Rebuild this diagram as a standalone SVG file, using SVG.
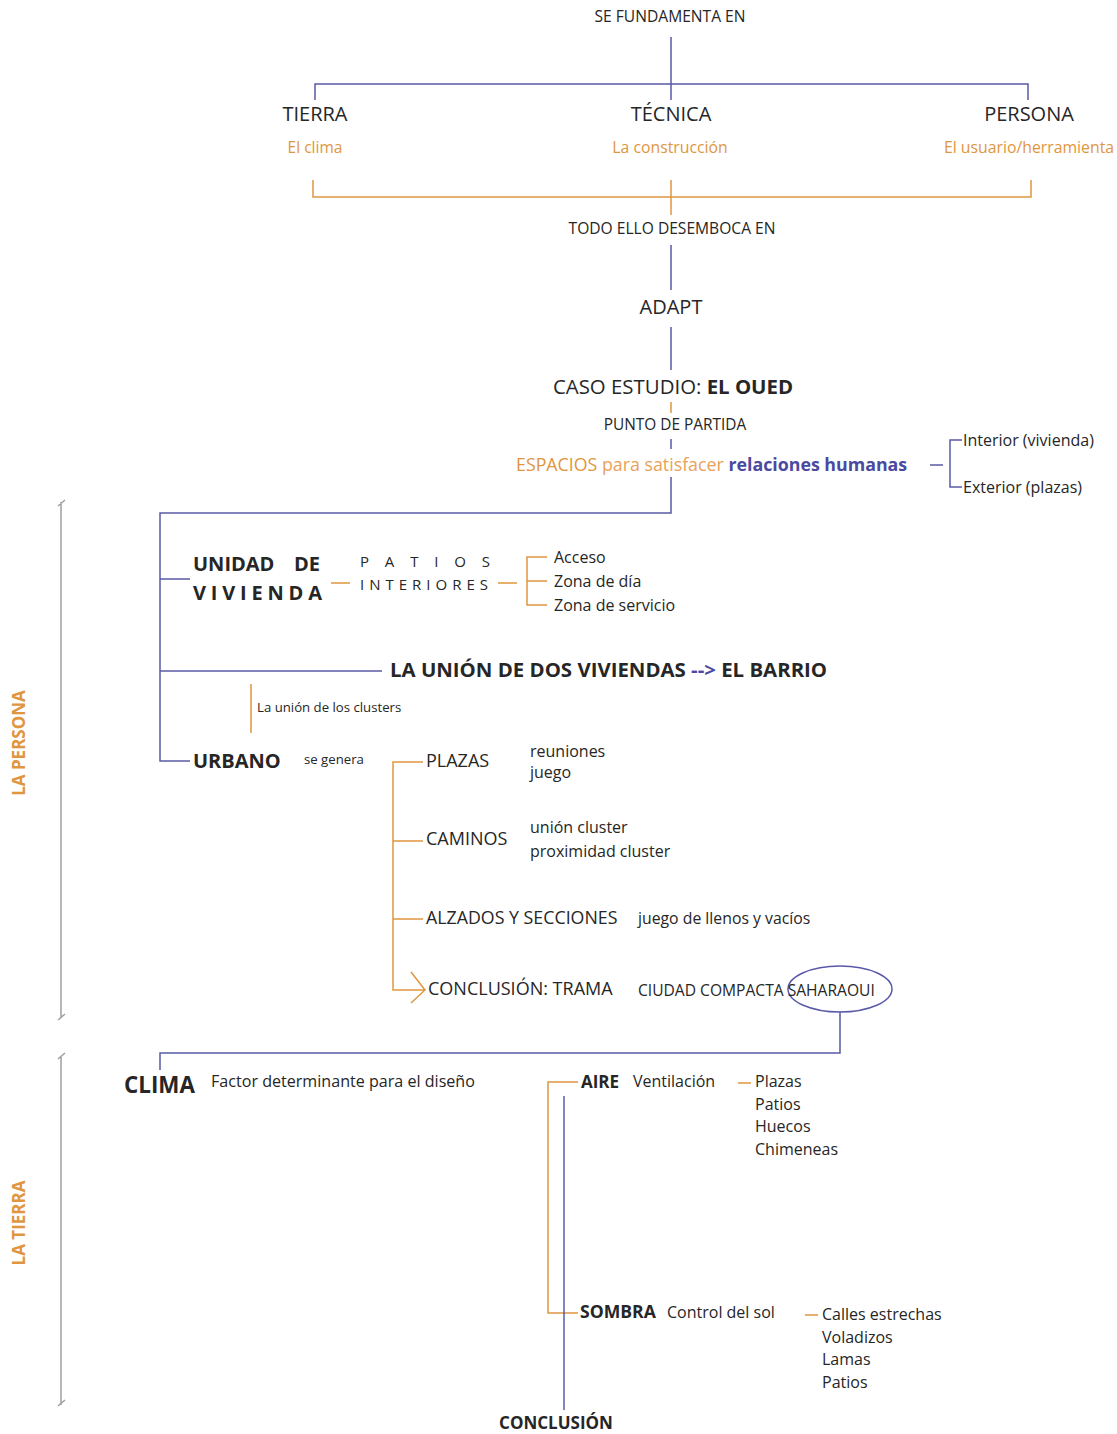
<svg xmlns="http://www.w3.org/2000/svg" width="1117" height="1434" viewBox="0 0 1117 1434">
<style>
text{font-family:"Open Sans","Noto Sans","Liberation Sans",sans-serif;fill:#262626}
.b{stroke:#5a5aa8;stroke-width:1.5;fill:none}
.o{stroke:#e0963f;stroke-width:1.5;fill:none}
.g{stroke:#a0a0a0;stroke-width:1.5;fill:none}
.or{fill:#e0963f}
.orl{fill:#e8a25a}
.bl{fill:#4a4aa0}
.bold{font-weight:700}
</style>
<rect width="1117" height="1434" fill="#fff"/>
<g id="connectors">
<path class="b" d="M671 37V100M315 100V84H1028V100"/>
<path class="o" d="M313 180V197H1031V180M671 180V215"/>
<path class="b" d="M671 245V290M671 327V370"/>
<path class="o" d="M671 402V413"/>
<path class="b" d="M671 439V449M671 477V513H160V761H190M160 579H190M160 671H382"/>
<path class="b" d="M930 465H943M962 440H950V487H962"/>
<path class="o" d="M331 583H350M498 583H517M547 557H527V605H547M527 581H547"/>
<path class="o" d="M251 684V733"/>
<path class="o" d="M423 762H393V990H425M393 841H423M393 919H423M411 972L425 990L411 1003"/>
<ellipse class="b" cx="840" cy="989" rx="52" ry="23"/>
<path class="b" d="M840 1012V1053H160V1070"/>
<path class="o" d="M578 1082H548V1313H578"/>
<path class="b" d="M564 1096V1410"/>
<path class="o" d="M738 1083H751M805 1315H818"/>
<path class="g" d="M61 502V1018M58 506L65 500M58 1020L65 1014M61 1057V1405M58 1059L65 1053M58 1406L65 1400"/>
</g>
<g id="n-top"><text x="670" y="22" font-size="15.6" text-anchor="middle">SE FUNDAMENTA EN</text></g>
<g id="n-tierra"><text x="315" y="121" font-size="20" text-anchor="middle">TIERRA</text><text class="or" x="315" y="153" font-size="15.5" text-anchor="middle">El clima</text></g>
<g id="n-tecnica"><text x="671" y="121" font-size="20" text-anchor="middle">TÉCNICA</text><text class="or" x="670" y="153" font-size="15.8" text-anchor="middle">La construcción</text></g>
<g id="n-persona"><text x="1029" y="121" font-size="20" text-anchor="middle">PERSONA</text><text class="or" x="1029" y="153" font-size="15.8" text-anchor="middle">El usuario/herramienta</text></g>
<g id="n-todo"><text x="672" y="234" font-size="15.6" text-anchor="middle">TODO ELLO DESEMBOCA EN</text></g>
<g id="n-adapt"><text x="671" y="314" font-size="20" text-anchor="middle">ADAPT</text></g>
<g id="n-caso"><text x="673" y="394" font-size="20.4" text-anchor="middle">CASO ESTUDIO: <tspan class="bold">EL OUED</tspan></text></g>
<g id="n-punto"><text x="675" y="430" font-size="15.4" text-anchor="middle">PUNTO DE PARTIDA</text></g>
<g id="n-espacios"><text x="516" y="471" font-size="17.8"><tspan class="or">ESPACIOS</tspan><tspan class="orl"> para satisfacer </tspan><tspan class="bl bold">relaciones humanas</tspan></text></g>
<g id="n-intext"><text x="963" y="446" font-size="16">Interior (vivienda)</text><text x="963" y="493" font-size="16">Exterior (plazas)</text></g>
<g id="n-unidad"><text class="bold" x="193" y="571" font-size="20">UNIDAD</text><text class="bold" x="320" y="571" font-size="20" text-anchor="end">DE</text><text class="bold" x="193" y="600" font-size="20" textLength="129" lengthAdjust="spacing">VIVIENDA</text></g>
<g id="n-patios"><text x="360" y="567" font-size="15" textLength="130" lengthAdjust="spacing">PATIOS</text><text x="360" y="590" font-size="15" textLength="128" lengthAdjust="spacing">INTERIORES</text></g>
<g id="n-zonas"><text x="554" y="563" font-size="16">Acceso</text><text x="554" y="587" font-size="16">Zona de día</text><text x="554" y="611" font-size="16">Zona de servicio</text></g>
<g id="n-union"><text class="bold" x="390" y="677" font-size="20.4">LA UNIÓN DE DOS VIVIENDAS <tspan class="bl">--&gt;</tspan> EL BARRIO</text></g>
<g id="n-clusters"><text x="257" y="712" font-size="13.2">La unión de los clusters</text></g>
<g id="n-urbano"><text class="bold" x="193" y="768" font-size="20">URBANO</text><text x="304" y="764" font-size="13.2">se genera</text></g>
<g id="n-plazas"><text x="426" y="767" font-size="18">PLAZAS</text><text x="530" y="757" font-size="16">reuniones</text><text x="530" y="778" font-size="16">juego</text></g>
<g id="n-caminos"><text x="426" y="845" font-size="18">CAMINOS</text><text x="530" y="833" font-size="16">unión cluster</text><text x="530" y="857" font-size="16">proximidad cluster</text></g>
<g id="n-alzados"><text x="426" y="924" font-size="17.8">ALZADOS Y SECCIONES</text><text x="638" y="924" font-size="15.8">juego de llenos y vacíos</text></g>
<g id="n-conclusion-trama"><text x="428" y="995" font-size="18">CONCLUSIÓN: TRAMA</text><text x="638" y="996" font-size="15.6">CIUDAD COMPACTA SAHARAOUI</text></g>
<g id="n-clima"><text class="bold" x="124" y="1093" font-size="22.4">CLIMA</text><text x="211" y="1087" font-size="16.1">Factor determinante para el diseño</text></g>
<g id="n-aire"><text class="bold" x="581" y="1088" font-size="17">AIRE</text><text x="633" y="1087" font-size="16">Ventilación</text><text x="755" y="1087" font-size="16">Plazas</text><text x="755" y="1110" font-size="16">Patios</text><text x="755" y="1132" font-size="16">Huecos</text><text x="755" y="1155" font-size="16">Chimeneas</text></g>
<g id="n-sombra"><text class="bold" x="580" y="1318" font-size="17.6">SOMBRA</text><text x="667" y="1318" font-size="16">Control del sol</text><text x="822" y="1320" font-size="16">Calles estrechas</text><text x="822" y="1343" font-size="16">Voladizos</text><text x="822" y="1365" font-size="16">Lamas</text><text x="822" y="1388" font-size="16">Patios</text></g>
<g id="n-conclusion"><text class="bold" x="556" y="1429" font-size="17" text-anchor="middle">CONCLUSIÓN</text></g>
<g id="n-la-persona"><text class="or bold" transform="translate(25 743) rotate(-90)" font-size="17" text-anchor="middle">LA PERSONA</text></g>
<g id="n-la-tierra"><text class="or bold" transform="translate(25 1223) rotate(-90)" font-size="17" text-anchor="middle">LA TIERRA</text></g>
</svg>
